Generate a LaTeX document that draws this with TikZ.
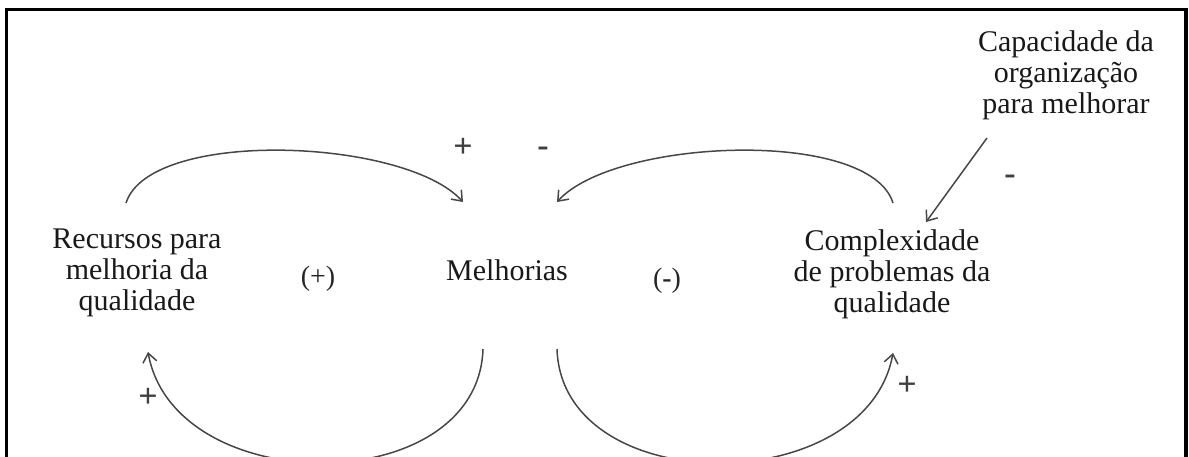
\documentclass[tikz,border=0pt]{standalone}
\usepackage{fontspec}
\setmainfont{Liberation Serif}
\usetikzlibrary{arrows.meta}
\begin{document}
\begin{tikzpicture}[x=1pt,y=-1pt,
  lbl/.style={inner sep=0pt,align=center,font=\fontsize{30}{31}\selectfont,text=black!90},
  par/.style={inner sep=0pt,font=\fontsize{28}{30}\selectfont,text=black!85},
  sgn/.style={inner sep=0pt,font=\fontsize{34}{34}\bfseries\selectfont,text=black!75},
  link/.style={draw=black!72,line width=1.5pt,-{Straight Barb[length=9pt,width=14pt,line width=1.5pt]}},
  frame/.style={draw=black,line width=3.5pt}]
\useasboundingbox (0,0) rectangle (1189,456);
\begin{scope}
\clip (0,0) rectangle (1189,456);
\draw[frame] (6.5,470) -- (6.5,9.5) -- (1186,9.5) -- (1186,470);
% nodes
\node[lbl] (rec) at (137,273) {Recursos para\\melhoria da\\qualidade};
\node[lbl] (mel) at (507,270) {Melhorias};
\node[lbl] (com) at (892,274) {Complexidade\\de problemas da\\qualidade};
\node[lbl] (cap) at (1066,75) {Capacidade da\\organização\\para melhorar};
\node[par] (lp) at (318,279) {(+)};
\node[par] (lm) at (667,281) {(\textbf{-})};
% connector endpoints
\coordinate (a1) at (126,203);
\coordinate (a2) at (463,202);
\coordinate (b1) at (893,203);
\coordinate (b2) at (557,202);
\coordinate (c1) at (483,349);
\coordinate (c2) at (148,352);
\coordinate (d1) at (557,349);
\coordinate (d2) at (893,353);
\coordinate (e1) at (987,138);
\coordinate (e2) at (926,222);
\draw[link] (a1) .. controls (150,128) and (405,138) .. (a2);
\draw[link] (b1) .. controls (870,128) and (615,138) .. (b2);
\draw[link] (c1) .. controls (478,500) and (175,500) .. (c2);
\draw[link] (d1) .. controls (562,500) and (866,500) .. (d2);
\draw[link] (e1) -- (e2);
% signs
\node[sgn] (s1) at (463,148) {+};
\node[sgn] (s2) at (543,152) {-};
\node[sgn] (s3) at (1010,180) {-};
\node[sgn] (s4) at (148,398) {+};
\node[sgn] (s5) at (907,386) {+};
\end{scope}
\end{tikzpicture}
\end{document}
